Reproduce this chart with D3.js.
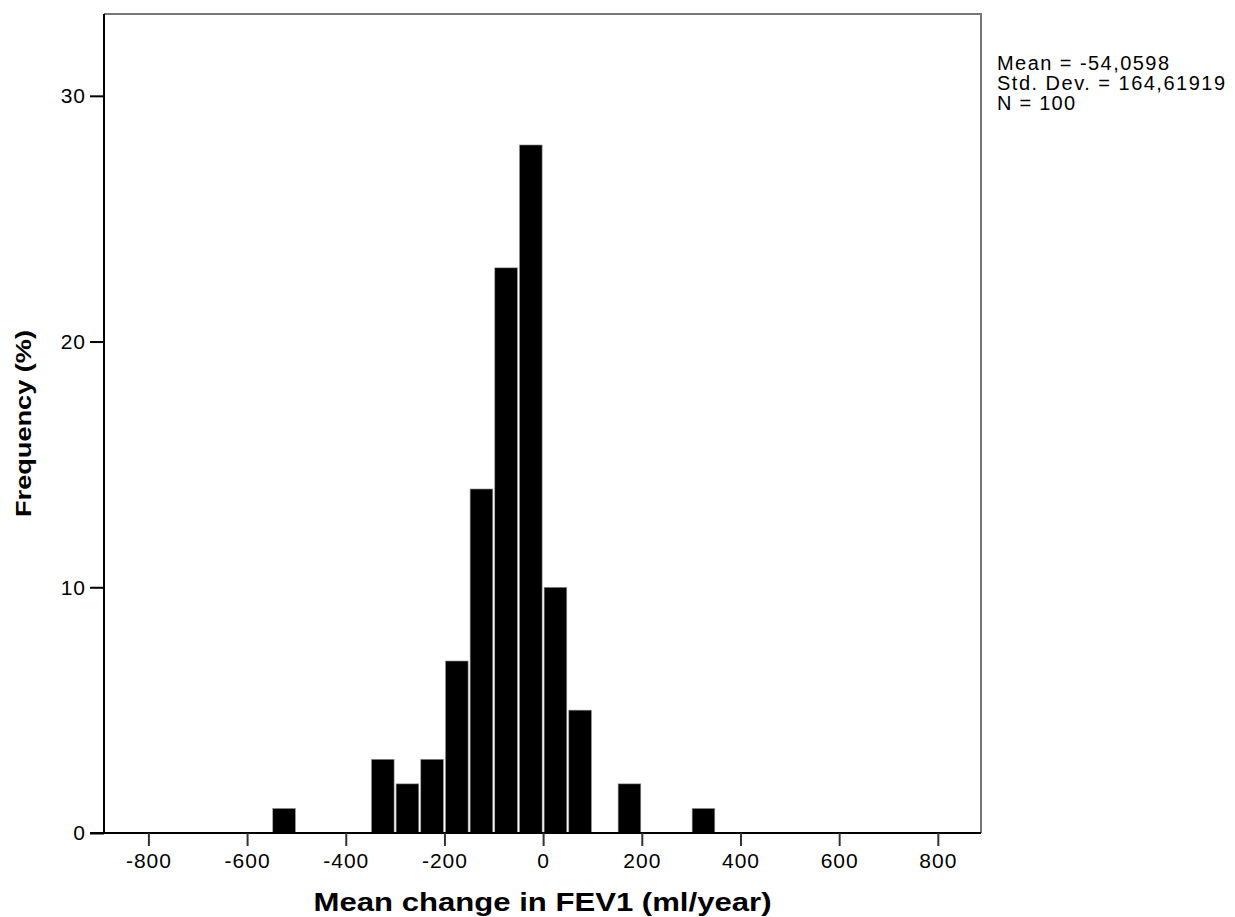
<!DOCTYPE html>
<html>
<head>
<meta charset="utf-8">
<script src="https://cdn.jsdelivr.net/npm/d3@7"></script>
<style>
  html, body { margin: 0; padding: 0; background: #fff; }
  svg { display: block; }
  text { font-family: "Liberation Sans", Arial, sans-serif; fill: #000; }
</style>
</head>
<body>
<svg id="chart" width="1235" height="917"></svg>
<script>
// Histogram bins (lower edge, upper edge) and frequency (%)
const binStarts = [-550, -350, -300, -250, -200, -150, -100, -50, 0, 50, 150, 300];
const binEnds   = [-500, -300, -250, -200, -150, -100,  -50,   0, 50, 100, 200, 350];
const frequency = [1, 3, 2, 3, 7, 14, 23, 28, 10, 5, 2, 1];
const xTicks = [-800, -600, -400, -200, 0, 200, 400, 600, 800];
const yTicks = [0, 10, 20, 30];
const statLines = ["Mean = -54,0598", "Std. Dev. = 164,61919", "N = 100"];
const xTitle = "Mean change in FEV1 (ml/year)";
const yTitle = "Frequency (%)";

const bins = binStarts.map((s, i) => ({ x0: s, x1: binEnds[i], v: frequency[i] }));

const svg = d3.select("#chart");
const L = 104, R = 981, T = 14, B = 833;

const x = d3.scaleLinear().domain([-890, 887.5]).range([L, R]);
const y = d3.scaleLinear().domain([0, 33.33]).range([B, T]);
const fmt = d => String(d); // plain hyphen-minus

// bars
svg.append("g").selectAll("rect").data(bins).join("rect")
  .attr("x", d => x(d.x0) + 1)
  .attr("width", d => x(d.x1) - x(d.x0) - 2)
  .attr("y", d => y(d.v))
  .attr("height", d => y(0) - y(d.v))
  .attr("fill", "#000")
  .attr("stroke", "#9a9a9a")
  .attr("stroke-width", 0.6);

// frame top and right (gray)
svg.append("path")
  .attr("d", `M${L},${T}H${R}V${B}`)
  .attr("fill", "none").attr("stroke", "#777").attr("stroke-width", 2);

// y axis
const yAxis = svg.append("g").attr("transform", `translate(${L},0)`)
  .call(d3.axisLeft(y).tickValues(yTicks).tickSize(14).tickPadding(4).tickFormat(fmt));
yAxis.select(".domain").attr("d", `M0,${T}V${B}`).attr("stroke", "#000").attr("stroke-width", 2);
yAxis.selectAll(".tick line").attr("stroke", "#000").attr("stroke-width", 2);
yAxis.selectAll(".tick text").style("font-size", "21px").style("letter-spacing", "1px")
  .style("font-family", '"Liberation Sans", Arial, sans-serif').attr("fill", "#1a1a1a");

// x axis
const xAxis = svg.append("g").attr("transform", `translate(0,${B})`)
  .call(d3.axisBottom(x).tickValues(xTicks).tickSize(13).tickPadding(7).tickFormat(fmt));
xAxis.select(".domain").attr("d", `M${L - 14},0H${R}`).attr("stroke", "#000").attr("stroke-width", 2);
xAxis.selectAll(".tick line").attr("stroke", "#333").attr("stroke-width", 2);
xAxis.selectAll(".tick text").style("font-size", "21px").style("letter-spacing", "1px")
  .style("font-family", '"Liberation Sans", Arial, sans-serif').attr("fill", "#1a1a1a");

// axis titles
svg.append("text")
  .attr("x", (L + R) / 2).attr("y", 911)
  .attr("text-anchor", "middle")
  .attr("textLength", 458).attr("lengthAdjust", "spacingAndGlyphs")
  .style("font-size", "25px").style("font-weight", "bold")
  .text(xTitle);

svg.append("text")
  .attr("transform", `translate(31,${(T + B) / 2}) rotate(-90)`)
  .attr("text-anchor", "middle")
  .attr("textLength", 187).attr("lengthAdjust", "spacingAndGlyphs")
  .style("font-size", "22px").style("font-weight", "bold")
  .text(yTitle);

// stats annotation
const statWidths = [172, 228, 78];
svg.append("g").selectAll("text").data(statLines).join("text")
  .attr("x", 997)
  .attr("y", (d, i) => 70 + i * 20)
  .attr("textLength", (d, i) => statWidths[i]).attr("lengthAdjust", "spacing")
  .style("font-size", "20px")
  .attr("fill", "#111")
  .text(d => d);
</script>
</body>
</html>
